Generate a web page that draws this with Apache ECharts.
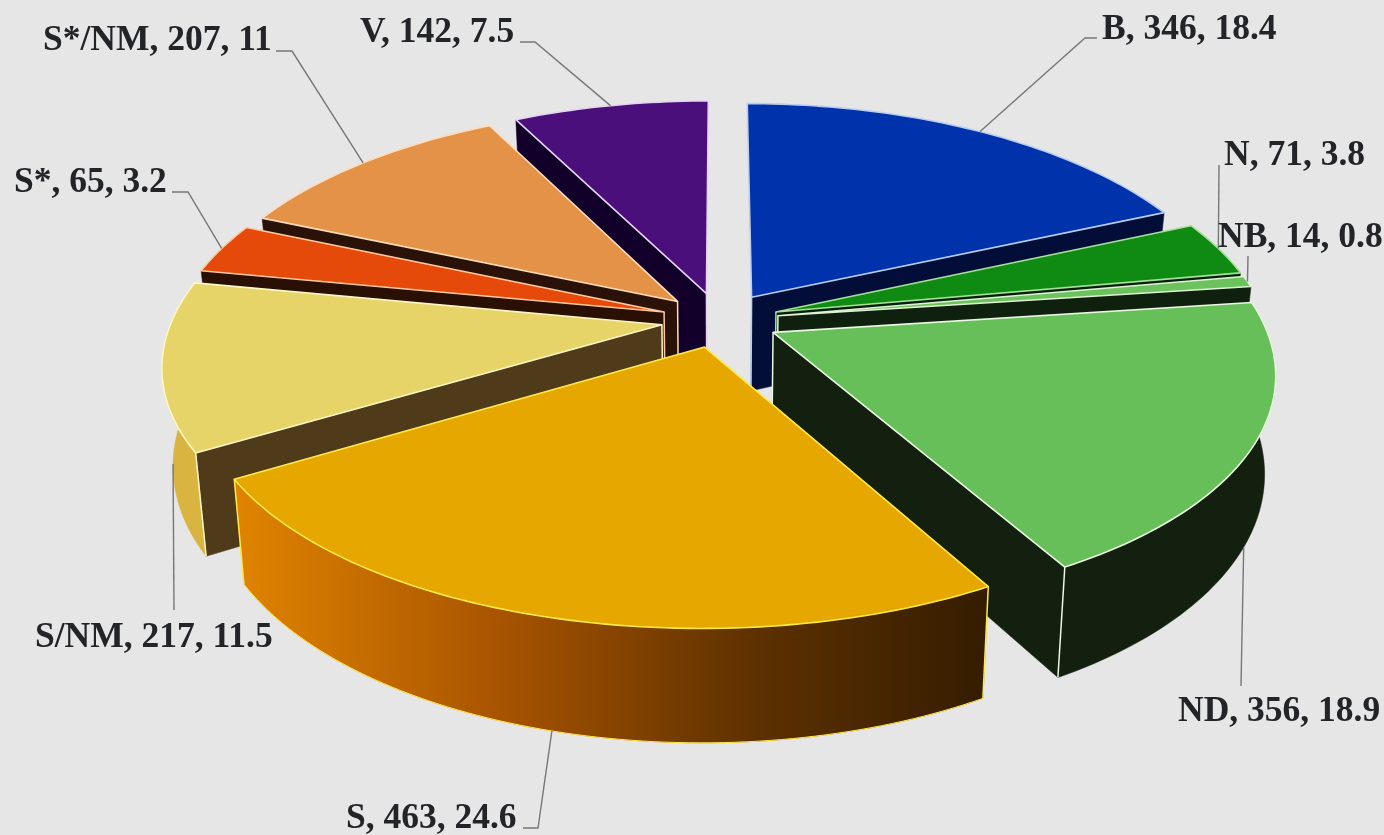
<!DOCTYPE html>
<html>
<head>
<meta charset="utf-8">
<style>html,body{margin:0;padding:0;background:#e6e6e6}#chart{width:1384px;height:835px}</style>
<script src="https://cdn.jsdelivr.net/npm/echarts@6/dist/echarts.min.js"></script>
</head>
<body>
<div id="chart"></div>
<script>
// Categories and values, clockwise from twelve o'clock.
const names = ['B', 'N', 'NB', 'ND', 'S', 'S/NM', 'S*', 'S*/NM', 'V'];
const counts = [346, 71, 14, 356, 463, 217, 65, 207, 142];
const percents = ['18.4', '3.8', '0.8', '18.9', '24.6', '11.5', '3.2', '11', '7.5'];

// Slice paint: top face, edge highlight, cut faces, rim wall.
const topColors = ['#0033ab', '#0f8a12', '#6cc25c', '#66bf58', '#e6a800', '#e6d468', '#e64a0a', '#e39248', '#4a0f7a'];
const edgeColors = ['#b8cdf2', '#a8e09a', '#dff2d5', '#eaf7e2', '#ffe94a', '#fff6c4', '#ffc9a0', '#ffdcb8', '#e4d4f2'];
const faceColors = ['#020e38', '#04200a', '#10200f', '#14200f', '#3a1e00', '#4f3a1a', '#2a0f05', '#2a1208', '#12002a'];
const rimColors = ['#020e38', '#04200a', '#10200f', '#14200f', null, '#d9b440', '#2a0f05', '#2a1208', '#12002a'];

// Callout routes, from the text end of each leader to the elbow; the last point comes from the slice.
const labelBoxes = [
  { x: 1102, y: 30, route: [[1097, 38], [1085, 38]], onBase: false },
  { x: 1224, y: 156, route: [[1219, 165]], onBase: false },
  { x: 1218, y: 238, route: [[1248, 256]], onBase: false },
  { x: 1178, y: 712, route: [[1241, 686]], onBase: true },
  { x: 346, y: 819, route: [[523, 828], [538, 828]], onBase: true },
  { x: 35, y: 638, route: [[174, 610]], onBase: true },
  { x: 14, y: 183, route: [[172, 192], [188, 192]], onBase: false },
  { x: 43, y: 41, route: [[276, 51], [292, 51]], onBase: false },
  { x: 360, y: 33, route: [[520, 42], [535, 42]], onBase: false }
];

// Perspective view of the exploded disc (unit radius, tilted away from the viewer).
const view = { cx: 720, cy: 320, rx: 490, ry: 229.5, persp: 0.152, spread: 0.07, thick: 95, taper: 0.02, explode: 0.12 };

const total = counts.reduce((a, b) => a + b, 0);
const angles = [];
counts.reduce((sum, v, i) => {
  angles[i] = [sum / total * 2 * Math.PI, (sum + v) / total * 2 * Math.PI];
  return sum + v;
}, 0);

function project(X, Y, low) {
  const s = 1 / (1 + view.persp * Y);
  const widen = 1 + view.spread * (s - 1);
  return [
    view.cx + view.rx * X * s * widen * (1 - view.taper * low),
    view.cy - view.ry * Y * s + view.thick * s * low
  ];
}
function sliceOffset(i) {
  const mid = (angles[i][0] + angles[i][1]) / 2;
  return [Math.sin(mid) * view.explode, Math.cos(mid) * view.explode];
}
function rimPoint(i, a, low) {
  const o = sliceOffset(i);
  return project(o[0] + Math.sin(a), o[1] + Math.cos(a), low);
}
function apexPoint(i, low) {
  const o = sliceOffset(i);
  return project(o[0], o[1], low);
}
function arcPoints(i, low) {
  const [a0, a1] = angles[i];
  const n = Math.max(4, Math.ceil((a1 - a0) / 0.02));
  const pts = [];
  for (let k = 0; k <= n; k++) pts.push(rimPoint(i, a0 + (a1 - a0) * k / n, low));
  return pts;
}
function signedArea(pts) {
  let sum = 0;
  pts.forEach((p, k) => {
    const q = pts[(k + 1) % pts.length];
    sum += p[0] * q[1] - q[0] * p[1];
  });
  return sum / 2;
}

function poly(points, fill, stroke, lineWidth) {
  return { type: 'polygon', shape: { points }, silent: true,
    style: { fill, stroke: stroke || fill, lineWidth: lineWidth === undefined ? 0.5 : lineWidth, lineJoin: 'round' } };
}
function seg(points, stroke, lineWidth) {
  return { type: 'polyline', shape: { points }, silent: true,
    style: { fill: 'none', stroke, lineWidth } };
}

function renderSlice(params, api) {
  const i = api.value(0);
  const top = arcPoints(i, 0);
  const base = arcPoints(i, 1);
  const apexT = apexPoint(i, 0);
  const apexB = apexPoint(i, 1);
  const last = top.length - 1;
  const startFace = [apexT, top[0], base[0], apexB];
  const endFace = [apexT, top[last], base[last], apexB];
  const rimFill = rimColors[i] || new echarts.graphic.LinearGradient(0, 0, 1, 0, [
    { offset: 0, color: '#e08400' },
    { offset: 0.35, color: '#a85400' },
    { offset: 0.7, color: '#5c3000' },
    { offset: 1, color: '#341c00' }
  ]);
  const children = [];
  // Only cut faces turned towards the viewer are painted.
  if (signedArea(startFace) < -1000) children.push(poly(startFace, faceColors[i]));
  if (signedArea(endFace) > 1000) children.push(poly(endFace, faceColors[i]));
  // The rim wall of a slice in the far half faces away and stays unpainted.
  if (sliceOffset(i)[1] < 0) {
    children.push(poly(top.concat(base.slice().reverse()), rimFill));
    if (!rimColors[i]) children.push(seg(base, edgeColors[i], 1));
    [0, last].forEach(k => {
      if (Math.cos(angles[i][k ? 1 : 0]) < 0) children.push(seg([top[k], base[k]], edgeColors[i], 1.5));
    });
  }
  children.push(seg([apexT, apexB], edgeColors[i], 1.5));
  children.push(poly([apexT].concat(top), topColors[i], edgeColors[i], 1.6));
  return { type: 'group', children };
}

function renderCallout(params, api) {
  const i = api.value(0);
  const box = labelBoxes[i];
  const mid = (angles[i][0] + angles[i][1]) / 2;
  const tip = rimPoint(i, mid, box.onBase ? 1 : 0);
  return {
    type: 'group',
    children: [
      seg(box.route.concat([tip]), '#777777', 1.4),
      { type: 'text', silent: true, x: box.x, y: box.y,
        style: { text: names[i] + ', ' + counts[i] + ', ' + percents[i],
          font: 'bold 35.5px "Liberation Serif"', fill: '#222428',
          textAlign: 'left', textVerticalAlign: 'middle' } }
    ]
  };
}

// Far slices first, so that nearer ones cover them.
const drawOrder = names.map((_, i) => i).sort((p, q) => sliceOffset(q)[1] - sliceOffset(p)[1]);

const chart = echarts.init(document.getElementById('chart'), null, { renderer: 'canvas' });
chart.setOption({
  backgroundColor: '#e6e6e6',
  animation: false,
  series: [
    { type: 'custom', coordinateSystem: 'none', silent: true, z: 2,
      data: drawOrder.map(i => [i]), renderItem: renderSlice },
    { type: 'custom', coordinateSystem: 'none', silent: true, z: 3,
      data: names.map((_, i) => [i]), renderItem: renderCallout }
  ]
});
</script>
</body>
</html>
